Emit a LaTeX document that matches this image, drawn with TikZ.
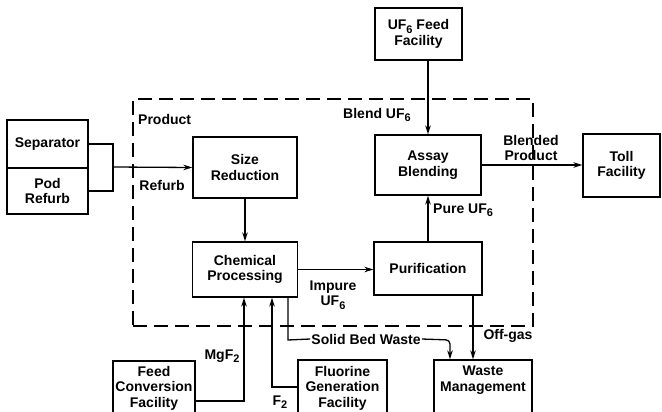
\documentclass[tikz,border=0pt]{standalone}
\usepackage{fontspec}
\setmainfont{Liberation Sans}
\usetikzlibrary{arrows.meta}
\newcommand\subnum[1]{\raisebox{-0.45ex}{\fontsize{11}{11}\selectfont #1}}
\begin{document}
\begin{tikzpicture}[x=1pt,y=-1pt,
  every node/.style={font=\fontsize{14}{15.5}\selectfont\bfseries, align=center},
  box/.style={draw, line width=1.3pt, inner sep=0pt},
  lbl/.style={inner sep=1pt},
  conn/.style={line width=1.3pt},
  arr/.style={conn, -{Stealth[length=9pt,width=5.5pt]}},
  dbox/.style={draw, line width=1.3pt, dash pattern=on 14pt off 7pt, inner sep=0pt}]
\clip (0,0) rectangle (662,412);
% dashed plant boundary
\node[dbox, minimum width=400, minimum height=227] (plant) at (333,212.5) {};
% boxes
\node[box, minimum width=81, minimum height=48] (sep) at (47.5,144) {Separator};
\node[box, minimum width=81, minimum height=46] (pod) at (47.5,191) {Pod\\Refurb};
\node[box, minimum width=104, minimum height=61] (size) at (245,167.5) {Size\\Reduction};
\node[box, minimum width=105, minimum height=55] (chem) at (245,269.5) {Chemical\\Processing};
\node[box, minimum width=106, minimum height=60] (assay) at (428,165) {Assay\\Blending};
\node[box, minimum width=108, minimum height=53] (purif) at (428,268.5) {Purification};
\node[box, minimum width=87, minimum height=52] (uf6) at (418.5,34) {UF\subnum{6} Feed\\Facility};
\node[box, minimum width=77, minimum height=63] (toll) at (621.5,165.5) {Toll\\Facility};
\node[box, minimum width=82, minimum height=54] (feedconv) at (154,388) {Feed\\Conversion\\Facility};
\node[box, minimum width=89, minimum height=56] (fluor) at (342.5,388) {Fluorine\\Generation\\Facility};
\node[box, minimum width=98, minimum height=70] (waste) at (483,395) {};
\node[lbl] (wastetxt) at (483,380) {Waste\\Management};
% labels
\node[lbl, anchor=west] (lprod) at (137,119) {Product};
\node[lbl] (lrefurb) at (162,185) {Refurb};
\node[lbl] (lblend) at (377,115) {Blend UF\subnum{6}};
\node[lbl] (lblended) at (531,148) {Blended\\Product};
\node[lbl, anchor=west] (lpure) at (432,210) {Pure UF\subnum{6}};
\node[lbl] (limpure) at (333,295) {Impure\\UF\subnum{6}};
\node[lbl] (lmgf) at (222,356) {MgF\subnum{2}};
\node[lbl] (lf2) at (280,402) {F\subnum{2}};
\node[lbl] (lsolid) at (366,339) {Solid Bed Waste};
\node[lbl] (loff) at (508,336) {Off-gas};
% coordinates
\coordinate (j) at (113,167);
\coordinate (sb1) at (288,340);
\coordinate (sb2) at (450,340);
\coordinate (og) at (473,330);
\coordinate (mg) at (244,401);
\coordinate (f2c) at (272,387);
% connectors
\draw[conn] (sep.east) -| (j);
\draw[conn] (pod.east) -| (j);
\draw[arr] (j) -- (size.west);
\draw[arr] (size.south) -- (chem.north);
\draw[arr] (chem.east) -- (chem.east -| purif.west);
\draw[arr] (purif.north) -- (assay.south);
\draw[arr] (uf6.south -| assay.north) -- (assay.north);
\draw[arr] (assay.east) -- (assay.east -| toll.west);
\draw[conn] (chem.south -| sb1) -- (sb1) -- (lsolid.west);
\draw[arr, rounded corners=4pt] (lsolid.east) -- (sb2) -- (waste.north -| sb2);
\draw[arr] (purif.south -| og) -- (waste.north -| og);
\draw[arr] (feedconv.east |- mg) -- (mg) -- (chem.south -| mg);
\draw[arr] (fluor.west |- f2c) -- (f2c) -- (chem.south -| f2c);
\end{tikzpicture}
\end{document}
